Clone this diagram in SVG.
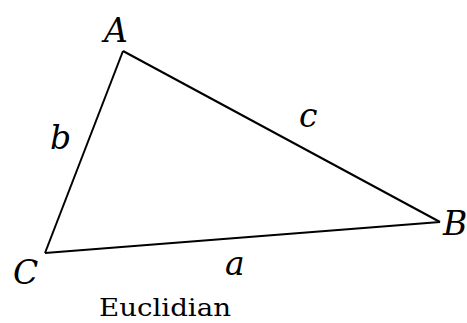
<svg xmlns="http://www.w3.org/2000/svg" width="467" height="323" viewBox="0 0 467 323">
<style>
.lbl{font-family:"DejaVu Serif","Liberation Serif",serif;font-style:italic;font-size:33px;fill:#000}
.edge{stroke:#000;stroke-width:2;fill:none;stroke-linejoin:miter}
.cap{font-family:"DejaVu Serif","Liberation Serif",serif;font-size:24px;fill:#000}
</style>
<rect width="467" height="323" fill="#fff"/>
<g id="connectors">
<line class="edge" x1="123" y1="51" x2="45" y2="253"/>
<line class="edge" x1="123" y1="51" x2="440" y2="222"/>
<line class="edge" x1="45" y1="253" x2="440" y2="222"/>
</g>
<g id="A"><text class="lbl" x="104" y="42">A</text></g>
<g id="B"><text class="lbl" x="443" y="235">B</text></g>
<g id="C"><text class="lbl" x="13" y="284">C</text></g>
<g id="b"><text class="lbl" x="50" y="149">b</text></g>
<g id="c"><text class="lbl" x="299" y="127">c</text></g>
<g id="a"><text class="lbl" x="225" y="275">a</text></g>
<g id="caption"><text class="cap" x="99" y="316" textLength="132" lengthAdjust="spacingAndGlyphs">Euclidian</text></g>
</svg>
